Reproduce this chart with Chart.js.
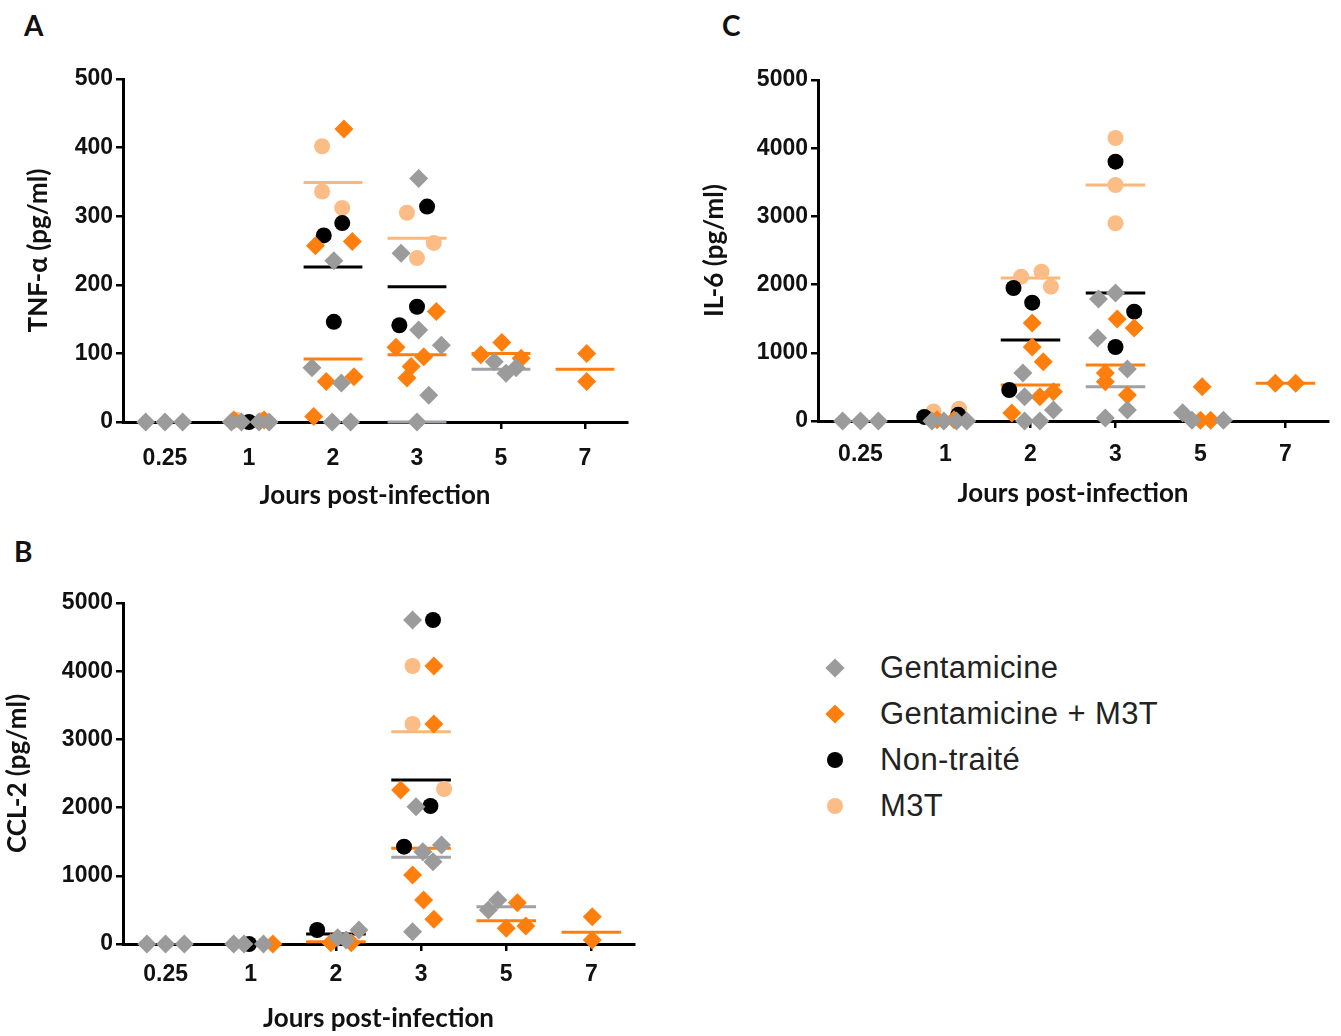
<!DOCTYPE html>
<html lang="fr">
<head>
<meta charset="utf-8">
<title>Cytokines - jours post-infection</title>
<script src="https://cdn.jsdelivr.net/npm/chart.js"></script>
<style>
  body { margin: 0; background: #fff; width: 1341px; height: 1036px; position: relative; overflow: hidden; }
  canvas { position: absolute; }
  .letter { position: absolute; font-family: Lato, sans-serif; font-weight: bold; font-size: 28px; color: #111; }
  .lg { position: absolute; left: 822px; font-family: "Liberation Sans", Arial, sans-serif; font-size: 31px; letter-spacing: 0.4px; color: #222; height: 34px; line-height: 34px; }
  .lg .mk { position: absolute; left: 5px; top: 9px; width: 16px; height: 16px; }
  .lg .dia { transform: rotate(45deg) scale(0.85); }
  .lg .dot { border-radius: 50%; }
  .lg span.t { position: absolute; left: 58px; white-space: nowrap; }
</style>
</head>
<body>
<div class="letter" style="left:24px;top:8px">A</div>
<div class="letter" style="left:722px;top:8px">C</div>
<div class="letter" style="left:14px;top:534px">B</div>

<canvas id="chartA" width="660" height="520" style="left:0;top:0"></canvas>
<canvas id="chartC" width="646" height="520" style="left:695px;top:0"></canvas>
<canvas id="chartB" width="660" height="516" style="left:0;top:520px"></canvas>

<div class="lg" style="top:651px"><span class="mk dia" style="background:#9b9b9b"></span><span class="t">Gentamicine</span></div>
<div class="lg" style="top:697px"><span class="mk dia" style="background:#ff7f0e"></span><span class="t">Gentamicine + M3T</span></div>
<div class="lg" style="top:743px"><span class="mk dot" style="background:#000"></span><span class="t">Non-traité</span></div>
<div class="lg" style="top:789px"><span class="mk dot" style="background:#fbbd85"></span><span class="t">M3T</span></div>

<script>
  const days = ['0.25', '1', '2', '3', '5', '7'];

  // A - TNF-α (pg/ml), valeurs par jour
  const tnfGenta    = [[0, 0, 0], [0, 0, 0, 0], [235, 79, 57, 0, 0], [355, 246, 134, 112, 39, 0], [88, 71, 79], []];
  const tnfGentaM3T = [[], [3, 3], [427, 257, 263, 59, 66, 8], [161, 109, 95, 81, 64], [116, 98, 93], [100, 59]];
  const tnfNT       = [[], [0], [290, 272, 146], [314, 168, 141], [], []];
  const tnfM3T      = [[], [3, 3], [402, 336, 312], [305, 261, 239], [], []];
  const tnfMeanGenta    = [null, null, null, 0, 77, null];
  const tnfMeanGentaM3T = [null, null, 92, 98, 100, 77];
  const tnfMeanNT       = [null, null, 226, 197, null, null];
  const tnfMeanM3T      = [null, null, 349, 268, null, null];

  // C - IL-6 (pg/ml)
  const il6Genta    = [[0, 0, 0], [0, 0, 0, 0], [704, 357, 161, 0, 0], [1877, 1789, 1217, 762, 161, 44], [120, 10, 10], []];
  const il6GentaM3T = [[], [20, 20], [1436, 1085, 870, 430, 357, 117], [1496, 1364, 704, 576, 381], [503, 10, 10], [552, 552]];
  const il6NT       = [[], [60, 90], [1950, 1735, 455], [3803, 1603, 1085], [], []];
  const il6M3T      = [[], [140, 180], [2116, 2189, 1970], [4150, 3460, 2900], [], []];
  const il6MeanGenta    = [null, null, null, 503, null, null];
  const il6MeanGentaM3T = [null, null, 528, 821, null, 552];
  const il6MeanNT       = [null, null, 1188, 1877, null, null];
  const il6MeanM3T      = [null, null, 2097, 3460, null, null];

  // B - CCL-2 (pg/ml)
  const ccl2Genta    = [[0, 0, 0], [0, 0, 0], [205, 90, 60], [4751, 2013, 1452, 1353, 1206, 180], [645, 500], []];
  const ccl2GentaM3T = [[], [0], [20, 20], [4076, 3226, 2258, 1012, 645, 362], [606, 230, 264], [400, 59]];
  const ccl2NT       = [[], [0], [205], [4751, 2023, 1427], [], []];
  const ccl2M3T      = [[], [], [], [4076, 3226, 2273], [], []];
  const ccl2MeanGenta    = [null, null, null, 1271, 547, null];
  const ccl2MeanGentaM3T = [null, null, 34, 1403, 342, 171];
  const ccl2MeanNT       = [null, null, 147, 2405, null, null];
  const ccl2MeanM3T      = [null, null, null, 3113, null, null];

  // décalage horizontal des points dans chaque colonne (dispersion)
  const tnfGentaDx    = [[-0.23, 0, 0.21], [-0.21, -0.09, 0.12, 0.24], [0.01, -0.25, 0.1, -0.01, 0.21], [0.02, -0.19, 0.02, 0.29, 0.14, 0], [-0.08, 0.06, 0.18], []];
  const tnfGentaM3TDx = [[], [-0.18, 0.18], [0.13, -0.21, 0.23, -0.08, 0.25, -0.23], [0.23, -0.25, 0.08, -0.07, -0.12], [0.01, -0.24, 0.24], [0.02, 0.02]];
  const tnfNTDx       = [[], [0], [0.11, -0.11, 0.01], [0.12, 0, -0.21], [], []];
  const tnfM3TDx      = [[], [-0.14, 0.16], [-0.13, -0.13, 0.11], [-0.12, 0.2, 0], [], []];
  const il6GentaDx    = [[-0.21, 0, 0.21], [-0.16, -0.02, 0.13, 0.25], [-0.09, -0.07, 0.27, -0.07, 0.11], [0, -0.2, -0.21, 0.14, 0.14, -0.12], [-0.21, -0.1, 0.27], []];
  const il6GentaM3TDx = [[], [-0.1, 0.1], [0.02, 0.02, 0.15, 0.27, 0.11, -0.22], [0.02, 0.22, -0.12, -0.12, 0.14], [0.02, 0, 0.12], [-0.12, 0.12]];
  const il6NTDx       = [[], [-0.25, 0.15], [-0.2, 0.02, -0.25], [0, 0.22, 0], [], []];
  const il6M3TDx      = [[], [-0.14, 0.16], [-0.11, 0.13, 0.24], [0, 0, 0], [], []];
  const ccl2GentaDx    = [[-0.22, 0, 0.22], [-0.2, -0.08, 0.15], [0.27, 0.02, 0.12], [-0.1, -0.06, 0.24, 0.02, 0.14, -0.1], [-0.1, -0.21], []];
  const ccl2GentaM3TDx = [[], [0.26], [-0.06, 0.18], [0.15, 0.15, -0.24, -0.1, 0.03, 0.15], [0.13, 0, 0.23], [0.01, 0.01]];
  const ccl2NTDx       = [[], [-0.02], [-0.22], [0.14, 0.11, -0.2], [], []];
  const ccl2M3TDx      = [[], [], [], [-0.1, -0.1, 0.27], [], []];

  const GRAY = '#9b9b9b', ORANGE = '#ff7f0e', BLACK = '#000000', LIGHT = '#fbbd85';
  const tickFont = { family: '"Liberation Sans", Arial, sans-serif', weight: 'bold', size: 23 };
  const titleFont = { family: 'Lato, sans-serif', weight: 'bold', size: 26 };

  function points(vals, dx) {
    const out = [];
    vals.forEach((arr, d) => arr.forEach((v, i) => out.push({ x: d + dx[d][i], y: v })));
    return out;
  }

  function meanSets(means, color) {
    const sets = [];
    means.forEach((m, d) => {
      if (m === null) return;
      sets.push({
        data: [{ x: d - 0.35, y: m }, { x: d + 0.35, y: m }],
        showLine: true, borderColor: color, borderWidth: 3, pointRadius: 0, clip: false
      });
    });
    return sets;
  }

  function pointSet(data, color, style) {
    return {
      data: data, backgroundColor: color, borderWidth: 0,
      pointStyle: style, pointRadius: style === 'circle' ? 8 : 9.5, clip: false
    };
  }

  function makeChart(id, p) {
    const datasets = [
      pointSet(points(p.genta, p.gentaDx), GRAY, 'rectRot'),
      pointSet(points(p.gentaM3T, p.gentaM3TDx), ORANGE, 'rectRot'),
      pointSet(points(p.nt, p.ntDx), BLACK, 'circle'),
      pointSet(points(p.m3t, p.m3tDx), LIGHT, 'circle'),
      ...meanSets(p.meanGenta, '#a0a0a8'),
      ...meanSets(p.meanGentaM3T, ORANGE),
      ...meanSets(p.meanNT, BLACK),
      ...meanSets(p.meanM3T, '#f9b77c')
    ];
    const axisGrid = { display: true, drawOnChartArea: false, drawTicks: true, tickLength: 7, color: '#000', lineWidth: 2.5 };
    const axisBorder = { display: true, color: '#000', width: 3 };
    return new Chart(document.getElementById(id), {
      type: 'scatter',
      data: { datasets: datasets },
      options: {
        responsive: false,
        animation: false,
        events: [],
        layout: { padding: p.pad },
        plugins: { legend: { display: false }, tooltip: { enabled: false } },
        scales: {
          x: {
            type: 'linear', min: -0.5, max: 5.5,
            afterBuildTicks: s => { s.ticks = days.map((_, i) => ({ value: i })); },
            afterFit: s => { s.height = p.xh; },
            ticks: { callback: v => days[v], font: tickFont, color: '#111', padding: p.xtp, maxRotation: 0, autoSkip: false },
            grid: axisGrid, border: axisBorder,
            title: { display: true, text: 'Jours post-infection', font: titleFont, color: '#111', padding: { top: 0, bottom: p.xtitle } }
          },
          y: {
            min: 0, max: p.ymax,
            afterFit: s => { s.width = p.yw; },
            ticks: { stepSize: p.ymax / 5, callback: v => String(v), font: tickFont, color: '#111', padding: 3 },
            grid: axisGrid, border: axisBorder,
            title: { display: true, text: p.ytitle, font: titleFont, color: '#111', padding: { top: p.ytitlePad, bottom: 0 } }
          }
        }
      }
    });
  }

  makeChart('chartA', {
    genta: tnfGenta, gentaDx: tnfGentaDx, gentaM3T: tnfGentaM3T, gentaM3TDx: tnfGentaM3TDx,
    nt: tnfNT, ntDx: tnfNTDx, m3t: tnfM3T, m3tDx: tnfM3TDx,
    meanGenta: tnfMeanGenta, meanGentaM3T: tnfMeanGentaM3T, meanNT: tnfMeanNT, meanM3T: tnfMeanM3T,
    ymax: 500, ytitle: 'TNF-α (pg/ml)', ytitlePad: 23,
    pad: { top: 79, right: 33, left: 0, bottom: 0 }, xh: 98, yw: 123, xtp: 16, xtitle: 9
  });

  makeChart('chartC', {
    genta: il6Genta, gentaDx: il6GentaDx, gentaM3T: il6GentaM3T, gentaM3TDx: il6GentaM3TDx,
    nt: il6NT, ntDx: il6NTDx, m3t: il6M3T, m3tDx: il6M3TDx,
    meanGenta: il6MeanGenta, meanGentaM3T: il6MeanGentaM3T, meanNT: il6MeanNT, meanM3T: il6MeanM3T,
    ymax: 5000, ytitle: 'IL-6 (pg/ml)', ytitlePad: 4,
    pad: { top: 80, right: 13, left: 0, bottom: 0 }, xh: 99, yw: 123, xtp: 13, xtitle: 11
  });

  makeChart('chartB', {
    genta: ccl2Genta, gentaDx: ccl2GentaDx, gentaM3T: ccl2GentaM3T, gentaM3TDx: ccl2GentaM3TDx,
    nt: ccl2NT, ntDx: ccl2NTDx, m3t: ccl2M3T, m3tDx: ccl2M3TDx,
    meanGenta: ccl2MeanGenta, meanGentaM3T: ccl2MeanGentaM3T, meanNT: ccl2MeanNT, meanM3T: ccl2MeanM3T,
    ymax: 5000, ytitle: 'CCL-2 (pg/ml)', ytitlePad: 2,
    pad: { top: 83, right: 26, left: 0, bottom: 0 }, xh: 92, yw: 123, xtp: 10, xtitle: 2
  });
</script>
</body>
</html>
